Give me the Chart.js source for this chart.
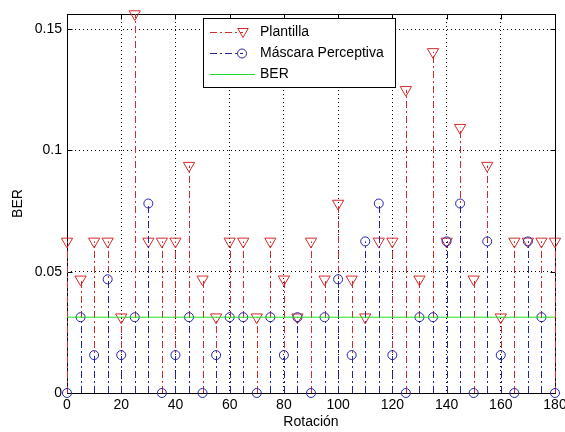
<!DOCTYPE html>
<html>
<head>
<meta charset="utf-8">
<script src="https://cdn.jsdelivr.net/npm/chart.js@4.4.1/dist/chart.umd.min.js"></script>
<style>
    html, body { margin: 0; padding: 0; background: #ffffff; }
    canvas { display: block; }
</style>
</head>
<body>
<canvas id="berChart" width="565" height="432"></canvas>
<script>
// Stem plot: BER vs rotation angle

const rotations = [0, 5, 10, 15, 20, 25, 30, 35, 40, 45, 50, 55, 60, 65, 70, 75, 80, 85, 90,
    95, 100, 105, 110, 115, 120, 125, 130, 135, 140, 145, 150, 155, 160, 165, 170, 175, 180];

const plantilla = [0.0625, 0.046875, 0.0625, 0.0625, 0.03125, 0.15625, 0.0625, 0.0625, 0.0625, 0.09375,
    0.046875, 0.03125, 0.0625, 0.0625, 0.03125, 0.0625, 0.046875, 0.03125, 0.0625, 0.046875,
    0.078125, 0.046875, 0.03125, 0.0625, 0.0625, 0.125, 0.046875, 0.140625, 0.0625, 0.109375,
    0.046875, 0.09375, 0.03125, 0.0625, 0.0625, 0.0625, 0.0625];

const mascara = [0, 0.03125, 0.015625, 0.046875, 0.015625, 0.03125, 0.078125, 0, 0.015625, 0.03125,
    0, 0.015625, 0.03125, 0.03125, 0, 0.03125, 0.015625, 0.03125, 0, 0.03125,
    0.046875, 0.015625, 0.0625, 0.078125, 0.015625, 0, 0.03125, 0.03125, 0.0625, 0.078125,
    0, 0.0625, 0.015625, 0, 0.0625, 0.03125, 0];

const berX = [0, 180];
const berY = [0.03125, 0.03125];

const xTicks = [0, 20, 40, 60, 80, 100, 120, 140, 160, 180];
const yTicks = [0, 0.05, 0.1, 0.15];

const RED = '#d42a2a';
const BLUE = '#2424a8';
const GREEN = '#22dd22';
const FONT = "'Liberation Sans', Arial, sans-serif";
const STEM_DASH = [7, 3, 2, 3];

function toPoints(xs, ys) {
    return xs.map((x, i) => ({ x: x, y: ys[i] }));
}

// draws the stems of a dataset just before its markers
const stemPlugin = {
    id: 'stems',
    beforeDatasetDraw(chart, args) {
        const ds = chart.data.datasets[args.index];
        if (!ds.stem) return;
        const { ctx, scales: { x, y } } = chart;
        const base = y.getPixelForValue(0);
        ctx.save();
        ctx.strokeStyle = ds.borderColor;
        ctx.lineWidth = 1;
        ctx.setLineDash(STEM_DASH);
        ds.data.forEach(p => {
            const px = Math.round(x.getPixelForValue(p.x)) + 0.5;
            ctx.beginPath();
            ctx.moveTo(px, base);
            ctx.lineTo(px, y.getPixelForValue(p.y));
            ctx.stroke();
        });
        ctx.restore();
    }
};

// Matlab style box with inward ticks
const boxPlugin = {
    id: 'box',
    beforeDatasetsDraw(chart) {
        const { ctx, chartArea: a, scales: { x, y } } = chart;
        const L = Math.round(a.left) + 0.5, R = Math.round(a.right) + 0.5;
        const T = Math.round(a.top) + 0.5, B = Math.round(a.bottom) + 0.5;
        ctx.save();
        ctx.strokeStyle = '#000000';
        ctx.lineWidth = 1;
        ctx.strokeRect(L, T, R - L, B - T);
        ctx.beginPath();
        xTicks.forEach(v => {
            const px = Math.round(x.getPixelForValue(v)) + 0.5;
            ctx.moveTo(px, B); ctx.lineTo(px, B - 5);
            ctx.moveTo(px, T); ctx.lineTo(px, T + 5);
        });
        yTicks.forEach(v => {
            const py = Math.round(y.getPixelForValue(v)) + 0.5;
            ctx.moveTo(L, py); ctx.lineTo(L + 5, py);
            ctx.moveTo(R, py); ctx.lineTo(R - 5, py);
        });
        ctx.stroke();
        ctx.restore();
    }
};

function drawTriangle(ctx, cx, cy, r) {
    ctx.beginPath();
    ctx.moveTo(cx - r * 0.87, cy - r * 0.5);
    ctx.lineTo(cx + r * 0.87, cy - r * 0.5);
    ctx.lineTo(cx, cy + r);
    ctx.closePath();
    ctx.stroke();
}

const legendPlugin = {
    id: 'matlabLegend',
    afterDraw(chart) {
        const ctx = chart.ctx;
        const bx = 203.5, by = 18.5, bw = 192, bh = 69;
        ctx.save();
        ctx.fillStyle = '#ffffff';
        ctx.fillRect(bx, by, bw, bh);
        ctx.strokeStyle = '#000000';
        ctx.lineWidth = 1;
        ctx.strokeRect(bx, by, bw, bh);

        const rows = [
            { label: 'Plantilla', color: RED, marker: 'tri', y: 32.5 },
            { label: 'Máscara Perceptiva', color: BLUE, marker: 'circle', y: 53.5 },
            { label: 'BER', color: GREEN, marker: null, y: 74.5 }
        ];
        rows.forEach(r => {
            ctx.strokeStyle = r.color;
            ctx.setLineDash(r.marker ? STEM_DASH : []);
            ctx.beginPath();
            ctx.moveTo(210, r.y);
            ctx.lineTo(r.marker ? 243 : 255, r.y);
            ctx.stroke();
            ctx.setLineDash([]);
            if (r.marker === 'tri') drawTriangle(ctx, 243, r.y - 1, 6);
            if (r.marker === 'circle') {
                ctx.beginPath();
                ctx.arc(242, r.y, 4.5, 0, Math.PI * 2);
                ctx.stroke();
            }
            ctx.fillStyle = '#000000';
            ctx.font = '14px ' + FONT;
            ctx.textBaseline = 'middle';
            ctx.fillText(r.label, 260, r.y);
        });
        ctx.restore();
    }
};

new Chart(document.getElementById('berChart'), {
    type: 'scatter',
    data: {
        datasets: [
            {
                label: 'BER',
                data: toPoints(berX, berY),
                showLine: true,
                borderColor: GREEN,
                borderWidth: 1,
                pointRadius: 0,
                order: 0
            },
            {
                label: 'Máscara Perceptiva',
                data: toPoints(rotations, mascara),
                stem: true,
                clip: false,
                borderColor: BLUE,
                backgroundColor: 'rgba(0,0,0,0)',
                pointStyle: 'circle',
                pointRadius: 4.5,
                pointBorderWidth: 1,
                order: 1
            },
            {
                label: 'Plantilla',
                data: toPoints(rotations, plantilla),
                stem: true,
                clip: false,
                borderColor: RED,
                backgroundColor: 'rgba(0,0,0,0)',
                pointStyle: 'triangle',
                pointRotation: 180,
                pointRadius: 6.5,
                pointBorderWidth: 1,
                order: 2
            }
        ]
    },
    options: {
        responsive: false,
        animation: false,
        layout: { padding: { top: 14, right: 10, left: 0, bottom: 0 } },
        plugins: {
            legend: { display: false },
            tooltip: { enabled: false }
        },
        scales: {
            x: {
                type: 'linear',
                min: 0,
                max: 180,
                afterBuildTicks: s => { s.ticks = xTicks.map(v => ({ value: v })); },
                afterFit: s => { s.height = 39; s.paddingLeft = 0; s.paddingRight = 0; },
                ticks: {
                    color: '#000000',
                    padding: 4,
                    maxRotation: 0,
                    font: { size: 14, family: FONT }
                },
                grid: { color: '#000000', drawTicks: false, lineWidth: 1 },
                border: { display: false, dash: [1, 3] },
                title: {
                    display: true,
                    text: 'Rotación',
                    color: '#000000',
                    padding: { top: 0, bottom: 1 },
                    font: { size: 14, family: FONT }
                }
            },
            y: {
                type: 'linear',
                min: 0,
                max: 0.15625,
                afterBuildTicks: s => { s.ticks = yTicks.map(v => ({ value: v })); },
                afterFit: s => { s.width = 67; s.paddingTop = 0; s.paddingBottom = 0; },
                ticks: {
                    color: '#000000',
                    padding: 5,
                    font: { size: 14, family: FONT },
                    callback: v => String(v)
                },
                grid: { color: '#000000', drawTicks: false, lineWidth: 1 },
                border: { display: false, dash: [1, 3] },
                title: {
                    display: true,
                    text: 'BER',
                    color: '#000000',
                    padding: { top: 10, bottom: 0 },
                    font: { size: 14, family: FONT }
                }
            }
        }
    },
    plugins: [stemPlugin, boxPlugin, legendPlugin]
});
</script>
</body>
</html>
